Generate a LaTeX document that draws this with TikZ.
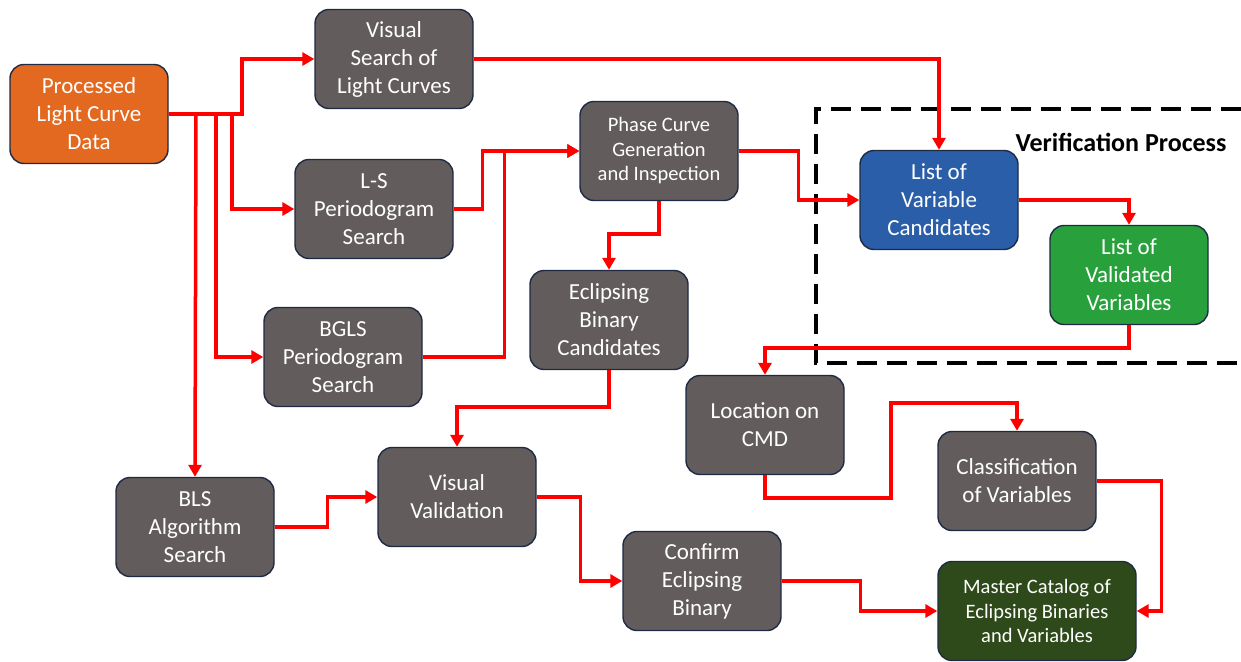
\documentclass[tikz,border=0pt]{standalone}
\usepackage{fontspec}
\setmainfont{Carlito}
\usetikzlibrary{arrows.meta, positioning}

\definecolor{boxgray}{HTML}{625D5C}
\definecolor{boxedge}{HTML}{1E2A44}
\definecolor{procorange}{HTML}{E2691F}
\definecolor{candblue}{HTML}{2A5EA8}
\definecolor{validgreen}{HTML}{28A13D}
\definecolor{mastergreen}{HTML}{2E4A1B}

\begin{document}
\begin{tikzpicture}[
    x=1pt, y=-1pt,
    stage/.style = {rectangle, draw=boxedge, line width=1.4pt, fill=boxgray, text=white, align=center, rounded corners=14pt, minimum width=158pt, minimum height=99pt, inner sep=2pt, font=\fontsize{23}{28}\selectfont},
    small/.style = {font=\fontsize{20.5}{24.5}\selectfont},
    line/.style = {draw=red, line width=3.5pt, -{Triangle[length=12pt,width=13pt]}},
]
\useasboundingbox (0,0) rectangle (1241,661);

% Input
\node [stage, fill=procorange] (proc) at (89,114) {Processed\\Light Curve\\Data};

% Searches
\node [stage] (vsearch) at (394,59) {Visual\\Search of\\Light Curves};
\node [stage] (ls) at (374,209) {L-S\\Periodogram\\Search};
\node [stage] (bgls) at (343,357) {BGLS\\Periodogram\\Search};
\node [stage] (bls) at (195,527) {BLS\\Algorithm\\Search};

% Eclipsing binary branch
\node [stage, small] (phase) at (659,151) {Phase Curve\\Generation\\and Inspection};
\node [stage] (ebc) at (609,320) {Eclipsing\\Binary\\Candidates};
\node [stage] (vval) at (457,497) {Visual\\Validation};
\node [stage] (confirm) at (702,581) {Confirm\\Eclipsing\\Binary};

% Variables branch
\node [stage, fill=candblue] (listvar) at (939,200) {List of\\Variable\\Candidates};
\node [stage, fill=validgreen] (listval) at (1129,275) {List of\\Validated\\Variables};
\node [stage] (cmd) at (765,425) {Location on\\CMD};
\node [stage] (class) at (1017,481) {Classification\\of Variables};

% Output
\node [stage, small, fill=mastergreen, minimum width=198pt] (master) at (1037,611) {Master Catalog of\\Eclipsing Binaries\\and Variables};

% Verification box
\draw [black, line width=3.5pt, dash pattern=on 20pt off 10pt] (1241,109) -- (816,109) -- (816,363) -- (1241,363);
\node [font=\fontsize{26}{30}\selectfont\bfseries] (verif) at (1121,142) {Verification Process};

% Paths
\path [line] (proc.east) -- (242,114) |- (vsearch.west);
\path [line] (proc.east) -- (232,114) |- (ls.west);
\path [line] (proc.east) -- (216,114) |- (bgls.west);
\path [line] (proc.east) -- (196,114) -- (bls.north);

\path [line] (vsearch.east) -| (listvar.north);
\path [line] (ls.east) -- ++(29,0) |- (phase.west);
\path [line] (bgls.east) -- ++(82,0) |- (phase.west);

\path [line] (phase.east) -- ++(60,0) |- (listvar.west);
\path [line] (phase.south) -- ++(0,33) -| (ebc.north);
\path [line] (ebc.south) -- ++(0,37) -| (vval.north);
\path [line] (bls.east) -- ++(53,0) |- (vval.west);
\path [line] (vval.east) -- ++(44,0) |- (confirm.west);

\path [line] (listvar.east) -| (listval.north);
\path [line] (listval.south) -- ++(0,23) -| (cmd.north);
\path [line] (cmd.south) |- (891,498) -- (891,403) -| (class.north);
\path [line] (class.east) -- ++(65,0) |- (master.east);
\path [line] (confirm.east) -- ++(79,0) |- (master.west);

\end{tikzpicture}
\end{document}
